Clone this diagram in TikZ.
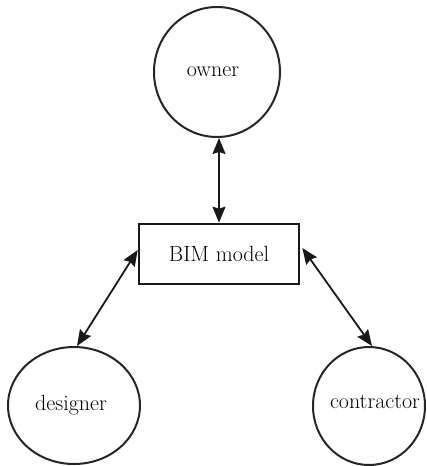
\documentclass[tikz,border=0pt]{standalone}
\usetikzlibrary{arrows.meta,shapes.geometric}
\begin{document}
\begin{tikzpicture}[x=1pt,y=-1pt,
  lbl/.style={font=\fontsize{22}{24}\selectfont},
  actor/.style={draw=black!85,line width=2pt,ellipse,inner sep=0pt},
  modelbox/.style={draw=black!90,line width=2.6pt,rectangle,inner sep=0pt,minimum width=160pt,minimum height=60pt,lbl},
  link/.style={line width=1.8pt,black!90,{Stealth[length=16pt,width=13pt,inset=2pt]}-{Stealth[length=16pt,width=13pt,inset=2pt]}}]
\useasboundingbox (0,0) rectangle (427,466);
\node[actor,minimum width=126pt,minimum height=130pt] (owner) at (217,72) {};
\node[lbl] (ownerlbl) at (213,72) {owner};
\node[modelbox] (box) at (219,254) {BIM model};
\node[actor,minimum width=132pt,minimum height=117pt] (designer) at (74,405.5) {};
\node[lbl] (designerlbl) at (71,405) {designer};
\node[actor,minimum width=112pt,minimum height=118pt] (contractor) at (369,406) {};
\node[lbl] (contractorlbl) at (375,402) {contractor};
\coordinate (bt) at (box.north);
\coordinate (ob) at (bt |- owner.south);
\coordinate (bl) at ([yshift=4pt]box.west);
\coordinate (br) at ([yshift=6pt,xshift=2pt]box.east);
\coordinate (dt) at ([xshift=3pt]designer.north);
\coordinate (ct) at ([xshift=3pt]contractor.north);
\draw[link] (ob) -- (bt);
\draw[link] (dt) -- (bl);
\draw[link] (br) -- (ct);
\end{tikzpicture}
\end{document}
